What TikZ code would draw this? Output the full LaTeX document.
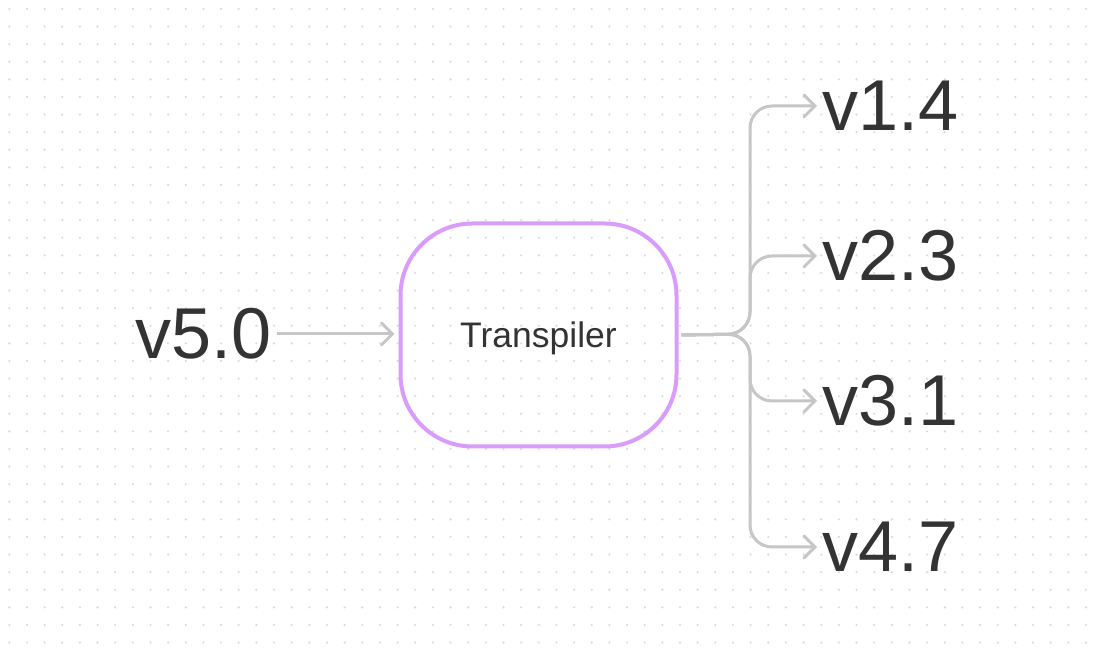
\documentclass[tikz,border=0pt]{standalone}
\usepackage{fontspec}
\setmainfont{Liberation Sans}
\usepackage{tikz}
\usetikzlibrary{arrows.meta}
\definecolor{ink}{RGB}{51,51,51}
\definecolor{wire}{RGB}{198,198,198}
\definecolor{lilac}{RGB}{218,156,250}
\definecolor{dotgray}{RGB}{218,218,218}
\begin{document}
\begin{tikzpicture}[x=1pt, y=1pt,
	version/.style={inner sep=0pt, text=ink, font=\fontsize{72}{80}\selectfont},
	box/.style={draw=lilac, line width=4pt, rounded corners=72pt, minimum width=276pt, minimum height=223pt, text=ink, text depth=0pt, font=\fontsize{35.5}{40}\selectfont},
	link/.style={draw=wire, line width=3pt, rounded corners=22pt, -{Straight Barb[length=11pt, width=22pt, line cap=round]}}]
		\useasboundingbox (0,0) rectangle (1096,655);
		\fill[white] (0,0) rectangle (1096,655);
		% dot grid
		\foreach \i in {0,...,61}
			\foreach \j in {0,...,36}
				\fill[dotgray] (9.3+17.65*\i, 646-17.6*\j) circle (1.2pt);
		\node[version, anchor=east] (v50)at(272,321) {v5.0};
		\node[box] (tp)at(538.5,320) {Transpiler};
		\node[version, anchor=west] (v14)at(822,549) {v1.4};
		\node[version, anchor=west] (v23)at(822,399) {v2.3};
		\node[version, anchor=west] (v31)at(822,254) {v3.1};
		\node[version, anchor=west] (v47)at(822,108) {v4.7};
		\coordinate (split)at(750,321);
		\draw[link, shorten <=5pt, shorten >=4pt] (v50.east) -- (tp.west |- v50.east);
		\draw[link, shorten <=3pt, shorten >=5pt] (tp.east) -- (split) |- (v14.west);
		\draw[link, shorten <=3pt, shorten >=5pt] (tp.east) -- (split) |- (v23.west);
		\draw[link, shorten <=3pt, shorten >=5pt] (tp.east) -- (split) |- (v31.west);
		\draw[link, shorten <=3pt, shorten >=5pt] (tp.east) -- (split) |- (v47.west);
	\end{tikzpicture}
\end{document}
